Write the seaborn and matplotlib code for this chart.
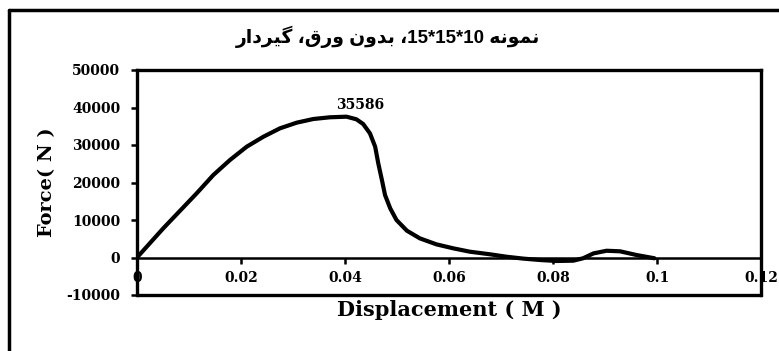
import matplotlib
matplotlib.use("Agg")
import matplotlib.pyplot as plt
from matplotlib.lines import Line2D
import seaborn as sns
import pandas as pd

# Load–displacement record of the 10*15*15 specimen
displacement = [0, 0.00506, 0.01148, 0.01468, 0.01788, 0.0211, 0.0243, 0.0275,
                0.0307, 0.0339, 0.0371, 0.0403, 0.0422, 0.0435, 0.0448, 0.0458,
                0.0464, 0.0471, 0.0477, 0.0487, 0.0499, 0.0519, 0.0544, 0.0576,
                0.0608, 0.0640, 0.0679, 0.0711, 0.0743, 0.0775, 0.0807, 0.0839,
                0.0858, 0.0878, 0.0903, 0.0929, 0.0961, 0.0995]
force = [0, 7790, 17120, 22000, 26000, 29550, 32200, 34450,
         35950, 36930, 37390, 37550, 36850, 35586, 33100, 29550,
         25100, 20650, 16650, 13100, 10000, 7150, 5100, 3500,
         2450, 1550, 850, 200, -300, -670, -930, -850,
         -200, 1100, 1800, 1650, 650, -200]

peak_index = 13  # labelled point

x_ticks = [0, 0.02, 0.04, 0.06, 0.08, 0.1, 0.12]
x_tick_labels = ["0", "0.02", "0.04", "0.06", "0.08", "0.1", "0.12"]
y_ticks = [-10000, 0, 10000, 20000, 30000, 40000, 50000]
y_tick_labels = ["-10000", "0", "10000", "20000", "30000", "40000", "50000"]

x_label = "Displacement ( M )"
y_label = "Force( N )"


def shape_rtl(glyph_codes):
    """Arabic presentation forms in logical order -> left-to-right visual string."""
    return "".join(chr(c) for c in reversed(glyph_codes))


# Words of the title, already in their contextual (joined) forms
w_nemune = shape_rtl([0xFEE7, 0xFEE4, 0xFEEE, 0xFEE7, 0xFEEA])   # نمونه
w_bedun = shape_rtl([0xFE91, 0xFEAA, 0xFEED, 0xFEE5])           # بدون
w_varagh = shape_rtl([0xFEED, 0xFEAD, 0xFED5])                  # ورق
w_girdar = shape_rtl([0xFB94, 0xFBFF, 0xFEAE, 0xFEA9, 0xFE8D, 0xFEAD])  # گیردار
comma = "\u060C"
title_text = (w_girdar + " " + comma + w_varagh + " " + w_bedun + " " + comma
              + "15*15*10" + " " + w_nemune)

df = pd.DataFrame({"Displacement": displacement, "Force": force})

sns.set_theme(style="white")
plt.rcParams["font.family"] = ["DejaVu Serif"]

W, H = 779, 351
fig = plt.figure(figsize=(W / 100, H / 100), dpi=100)
ax = fig.add_axes([137 / W, 1 - 295 / H, 624 / W, 225 / H])

sns.lineplot(data=df, x="Displacement", y="Force", ax=ax, sort=False,
             estimator=None, color="black", linewidth=3.0)
for ln in ax.get_lines():
    ln.set_solid_joinstyle("round")
    ln.set_solid_capstyle("round")

ax.set_xlim(0, 0.12)
ax.set_ylim(-10000, 50000)

# Frame: left/top/right edges plus the bottom edge at the lowest y value,
# while the horizontal axis itself crosses at zero
frame_w = 2.4
for side in ["left", "top", "right"]:
    ax.spines[side].set_visible(True)
    ax.spines[side].set_color("black")
    ax.spines[side].set_linewidth(frame_w)
ax.spines["bottom"].set_position(("data", 0))
ax.spines["bottom"].set_color("black")
ax.spines["bottom"].set_linewidth(1.8)
ax.axhline(-10000, color="black", linewidth=frame_w, clip_on=False, zorder=3)

ax.set_xticks(x_ticks)
ax.set_xticklabels(x_tick_labels)
ax.set_yticks(y_ticks)
ax.set_yticklabels(y_tick_labels)

ax.tick_params(axis="x", direction="out", length=4, width=1.8, pad=6,
               colors="black", labelsize=10, bottom=True)
ax.tick_params(axis="y", direction="out", length=4, width=1.8, pad=8,
               colors="black", labelsize=10, left=True)
for lab in ax.get_xticklabels() + ax.get_yticklabels():
    lab.set_fontweight("bold")

ax.set_xlabel(x_label, fontsize=15, fontweight="bold", color="black")
ax.xaxis.label.set_va("center")
ax.xaxis.set_label_coords(0.5, -0.067)
ax.set_ylabel(y_label, fontsize=14, fontweight="bold", color="black")
ax.yaxis.label.set_va("center")
ax.yaxis.label.set_ha("center")
ax.yaxis.set_label_coords(-0.144, 0.5)
ax.grid(False)

# Data label over the labelled point
ax.annotate(f"{force[peak_index]}", xy=(displacement[peak_index], force[peak_index]),
            xytext=(-2, 14), textcoords="offset points", ha="center", va="center",
            fontsize=10, fontweight="bold", color="black")

fig.text(388 / W, 1 - 37 / H, title_text, ha="center", va="center",
         fontsize=13.5, fontweight="bold", color="black",
         family=["Liberation Sans", "DejaVu Sans"])

# Outer chart border
fig.add_artist(Line2D([9 / W, 1.0], [1 - 10 / H, 1 - 10 / H], transform=fig.transFigure,
                      color="black", linewidth=2.5))
fig.add_artist(Line2D([9 / W, 9 / W], [0.0, 1 - 10 / H], transform=fig.transFigure,
                      color="black", linewidth=2.5))

fig.savefig("out.png", dpi=100, facecolor="white")
